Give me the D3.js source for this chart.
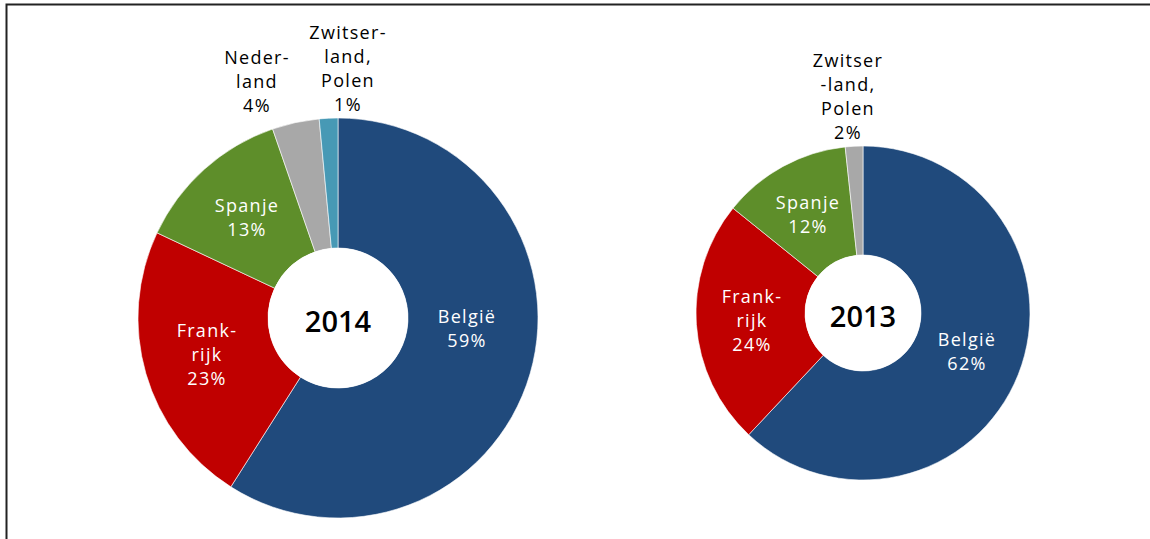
<!DOCTYPE html>
<html>
<head>
<meta charset="utf-8">
<script src="https://cdn.jsdelivr.net/npm/d3@7"></script>
<style>
  body { margin: 0; background: #fff; }
  svg text { font-family: "Open Sans", "Noto Sans", sans-serif; }
</style>
</head>
<body>
<div id="chart"></div>
<script>
const countries2014 = ["België", "Frankrijk", "Spanje", "Nederland", "Zwitserland, Polen"];
const values2014 = [59, 23, 12.7, 3.8, 1.5];
const labels2014 = [["België", "59%"], ["Frank-", "rijk", "23%"], ["Spanje", "13%"], ["Neder-", "land", "4%"], ["Zwitser-", "land,", "Polen", "1%"]];
const colors2014 = ["#204a7c", "#c00000", "#5e8e2a", "#a8a8a8", "#4799b5"];

const countries2013 = ["België", "Frankrijk", "Spanje", "Zwitserland, Polen"];
const values2013 = [62, 23.8, 12.5, 1.7];
const labels2013 = [["België", "62%"], ["Frank-", "rijk", "24%"], ["Spanje", "12%"], ["Zwitser", "-land,", "Polen", "2%"]];
const colors2013 = ["#204a7c", "#c00000", "#5e8e2a", "#a8a8a8"];

const width = 1150, height = 539;
const svg = d3.select("#chart").append("svg")
    .attr("width", width)
    .attr("height", height);

// frame (only top and left edges are visible)
svg.append("path")
    .attr("d", `M6.5,${height} L6.5,4.5 L${width},4.5`)
    .attr("fill", "none")
    .attr("stroke", "#222")
    .attr("stroke-width", 2);

function drawDonut(cfg) {
    const g = svg.append("g")
        .attr("transform", `translate(${cfg.cx},${cfg.cy})`);

    const data = cfg.countries.map((c, i) => ({ country: c, value: cfg.values[i], lines: cfg.labels[i] }));
    const color = d3.scaleOrdinal().domain(cfg.countries).range(cfg.colors);
    const pie = d3.pie().sort(null).value(d => d.value)(data);
    const arc = d3.arc().innerRadius(cfg.inner).outerRadius(cfg.outer);

    g.selectAll("path")
        .data(pie)
        .enter().append("path")
        .attr("d", arc)
        .attr("fill", d => color(d.data.country))
        .attr("stroke", "#fff")
        .attr("stroke-width", 0.6);

    // white hole with year
    g.append("circle").attr("r", cfg.inner).attr("fill", "#fff");
    g.append("text")
        .attr("text-anchor", "middle")
        .attr("dominant-baseline", "central")
        .attr("y", 2)
        .style("font-size", "29px")
        .style("font-weight", "600")
        .attr("fill", "#000")
        .text(cfg.year);

    // slice labels, positions picked per slice (inside in white, outside in black)
    pie.forEach((d, i) => {
        const p = cfg.labelPos[i];
        const t = g.append("text")
            .attr("text-anchor", "middle")
            .attr("fill", p.out ? "#000" : "#fff")
            .style("font-size", "18px")
            .style("letter-spacing", "1.3px");
        d.data.lines.forEach((line, k) => {
            t.append("tspan")
                .attr("x", p.x)
                .attr("y", p.y + k * 24 - (d.data.lines.length - 1) * 12)
                .attr("dy", "0.35em")
                .text(line);
        });
    });
}

drawDonut({
    cx: 338, cy: 318, outer: 200, inner: 70, year: "2014",
    countries: countries2014, values: values2014, labels: labels2014, colors: colors2014,
    labelPos: [
        { x: 129, y: 11 },
        { x: -131, y: 37 },
        { x: -91, y: -100 },
        { x: -81, y: -236, out: true },
        { x: 10, y: -249, out: true }
    ]
});

drawDonut({
    cx: 863, cy: 313, outer: 167, inner: 58, year: "2013",
    countries: countries2013, values: values2013, labels: labels2013, colors: colors2013,
    labelPos: [
        { x: 104, y: 39 },
        { x: -111, y: 8 },
        { x: -55, y: -98 },
        { x: -15, y: -216, out: true }
    ]
});
</script>
</body>
</html>
